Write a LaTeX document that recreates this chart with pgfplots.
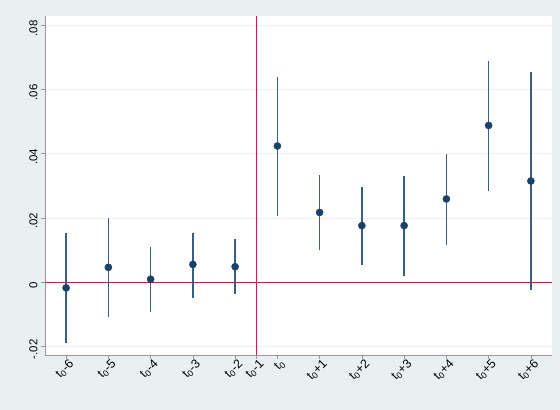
\documentclass[border=0pt]{standalone}
\usepackage{pgfplots}
\pgfplotsset{compat=1.18}
\usepackage{pgfplotstable}
\usepackage{fontspec}
\setmainfont{Liberation Sans}
\usetikzlibrary{backgrounds}
\definecolor{bgout}{HTML}{EAF0F2}
\definecolor{navy}{HTML}{1B4168}
\definecolor{bar}{HTML}{3A5D82}
\definecolor{redl}{HTML}{C8204A}
\definecolor{gridc}{HTML}{EDF2F4}
\pgfplotstableread{
x y lo hi
1 -0.0018 -0.0191 0.0154
2 0.0046 -0.0110 0.0200
3 0.0009 -0.0094 0.0110
4 0.0055 -0.0048 0.0154
5 0.0048 -0.0038 0.0133
6 0.0424 0.0207 0.0638
7 0.0217 0.0100 0.0333
8 0.0176 0.0054 0.0295
9 0.0176 0.0020 0.0330
10 0.0259 0.0117 0.0400
11 0.0488 0.0285 0.0688
12 0.0315 -0.0024 0.0655
}\est
\begin{document}
\begin{tikzpicture}[x=1bp,y=1bp]
\begin{axis}[
  name=ax,
  scale only axis,
  width=507bp, height=339bp,
  xmin=0.5, xmax=12.5,
  ymin=-0.0227, ymax=0.0829,
  scaled y ticks=false,
  axis background/.style={fill=white},
  axis lines*=left,
  axis line style={draw=gray!80, line width=0.8pt, -},
  xtick={1,2,3,4,5,5.5,6,7,8,9,10,11,12},
  xticklabels={t\textsubscript{0}-6,t\textsubscript{0}-5,t\textsubscript{0}-4,t\textsubscript{0}-3,t\textsubscript{0}-2,t\textsubscript{0}-1,t\textsubscript{0},t\textsubscript{0}+1,t\textsubscript{0}+2,t\textsubscript{0}+3,t\textsubscript{0}+4,t\textsubscript{0}+5,t\textsubscript{0}+6},
  ytick={-0.02,0,0.02,0.04,0.06,0.08},
  yticklabels={-.02,0,.02,.04,.06,.08},
  tick align=outside,
  major tick length=4bp,
  tick style={draw=gray!80, line width=0.7pt},
  ymajorgrids,
  grid style={draw=gridc, line width=0.8pt},
  xticklabel style={rotate=45, anchor=north east, font=\fontsize{12.5}{14}\selectfont, inner sep=1pt, xshift=3bp},
  yticklabel style={rotate=90, anchor=south, font=\fontsize{11.5}{13}\selectfont, xshift=-3bp},
  clip=false,
]
\addplot[redl, line width=1.1pt, forget plot] coordinates {(0.5,0) (12.5,0)};
\addplot[redl, line width=1.1pt, forget plot] coordinates {(5.5,-0.0227) (5.5,0.0829)};
\addplot[draw=none, mark=none, forget plot,
  error bars/.cd, y dir=both, y explicit,
  error mark=none,
  error bar style={bar, line width=1.6pt}]
  table[x=x, y=y, y error plus expr=\thisrow{hi}-\thisrow{y}, y error minus expr=\thisrow{y}-\thisrow{lo}] {\est};
\addplot[only marks, mark=*, mark size=3.6pt, mark options={fill=navy, draw=navy}]
  table[x=x, y=y] {\est};
\end{axis}
\begin{scope}[on background layer]
\fill[bgout] ([shift={(-45bp,-55bp)}]ax.south west) rectangle ([shift={(8bp,16bp)}]ax.north east);
\end{scope}
\useasboundingbox ([shift={(-45bp,-55bp)}]ax.south west) rectangle ([shift={(8bp,16bp)}]ax.north east);
\end{tikzpicture}
\end{document}
